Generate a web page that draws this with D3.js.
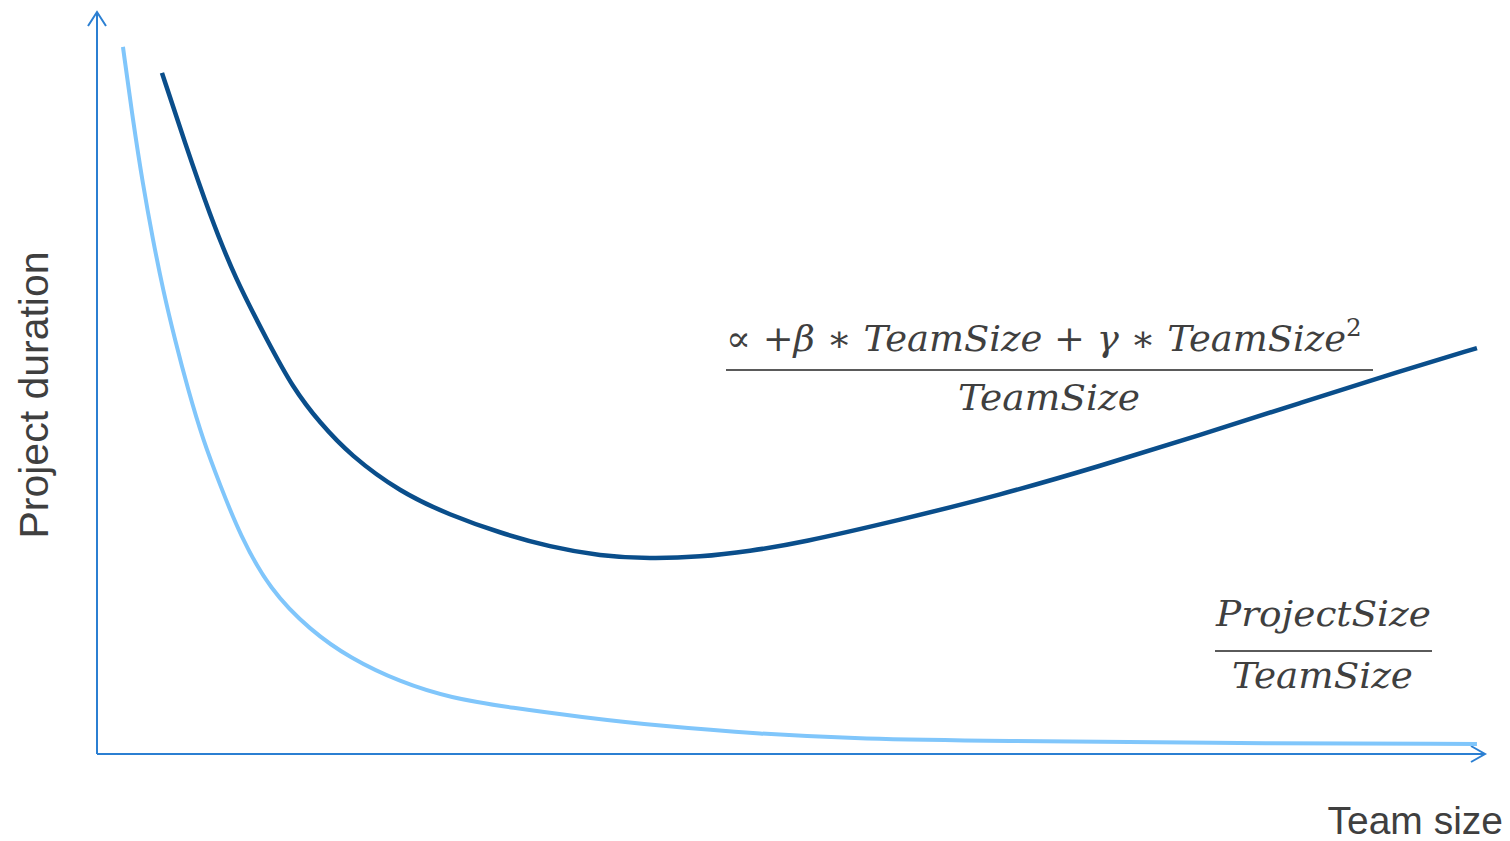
<!DOCTYPE html>
<html>
<head>
<meta charset="utf-8">
<script src="https://cdn.jsdelivr.net/npm/d3@7"></script>
<style>
  html, body { margin: 0; padding: 0; background: #fff; }
  svg { display: block; }
</style>
</head>
<body>
<svg id="chart" width="1510" height="841"></svg>
<script>
// team size (arbitrary units 0..100) and project duration (0..100)
const teamSizeSimple = [1.87, 2.59, 3.31, 4.03, 4.76, 5.62, 6.56, 7.64, 8.86, 10.3, 12.46, 15.35, 18.23, 21.83, 25.43, 29.97, 34.8, 40.56, 47.77, 54.97, 65.06, 79.47, 99.42];
const durationSimple = [95.3, 85.4, 76.7, 69.3, 62.5, 55.8, 49.1, 42.3, 36.3, 29.5, 22.1, 16.7, 12.9, 9.7, 7.55, 6.2, 5.0, 3.77, 2.7, 2.02, 1.75, 1.48, 1.35];

const teamSizeReal = [4.68, 6.34, 8.14, 9.94, 12.25, 14.12, 16.07, 18.23, 21.83, 25.43, 29.03, 32.64, 36.24, 39.84, 43.44, 47.05, 50.65, 57.85, 65.06, 72.26, 79.47, 86.67, 93.88, 99.42];
const durationReal = [91.8, 82.35, 72.6, 64.15, 55.8, 49.3, 44.6, 40.3, 35.3, 32.2, 29.8, 27.9, 26.7, 26.3, 26.55, 27.35, 28.45, 31.55, 34.9, 38.8, 43.0, 47.3, 51.6, 54.7];

const axisLabels = { x: 'Team size', y: 'Project duration' };

const svg = d3.select('#chart');

const x = d3.scaleLinear().domain([0, 100]).range([97, 1485]);
const y = d3.scaleLinear().domain([0, 100]).range([754, 12]);

const axisColor = '#2b7fd2';
const textColor = '#3f3f3f';

// axes with open arrow heads
const ax = svg.append('g').attr('fill', 'none').attr('stroke', axisColor).attr('stroke-width', 2);
ax.append('line').attr('x1', x(0)).attr('y1', y(0)).attr('x2', x(0)).attr('y2', y(100));
ax.append('line').attr('x1', x(0)).attr('y1', y(0)).attr('x2', x(100)).attr('y2', y(0));
ax.append('path').attr('d', `M${x(0) - 9},${y(100) + 14}L${x(0)},${y(100)}L${x(0) + 9},${y(100) + 14}`);
ax.append('path').attr('d', `M${x(100) - 14},${y(0) - 8}L${x(100)},${y(0)}L${x(100) - 14},${y(0) + 8}`);

// basis curve smooths out the reading noise in the points
const line = d3.line()
  .x(d => x(d[0]))
  .y(d => y(d[1]))
  .curve(d3.curveBasis);

svg.append('path')
  .datum(d3.zip(teamSizeSimple, durationSimple))
  .attr('fill', 'none')
  .attr('stroke', '#80c6fb')
  .attr('stroke-width', 4)
  .attr('d', line);

svg.append('path')
  .datum(d3.zip(teamSizeReal, durationReal))
  .attr('fill', 'none')
  .attr('stroke', '#0a4e8b')
  .attr('stroke-width', 4.5)
  .attr('d', line);

// axis titles
svg.append('text')
  .attr('transform', 'translate(48,395) rotate(-90)')
  .attr('text-anchor', 'middle')
  .attr('font-family', 'Liberation Sans, Arial, sans-serif')
  .attr('font-size', 41)
  .attr('fill', textColor)
  .text(axisLabels.y);

svg.append('text')
  .attr('x', 1503)
  .attr('y', 834)
  .attr('text-anchor', 'end')
  .attr('font-family', 'Liberation Sans, Arial, sans-serif')
  .attr('font-size', 39)
  .attr('fill', textColor)
  .text(axisLabels.x);

// formulas, squeezed to the widths seen in the picture
function fitText(g, parts, x0, baseline, width) {
  const t = g.append('text')
    .attr('font-family', 'DejaVu Serif, serif')
    .attr('font-size', 36)
    .attr('fill', textColor);
  parts.forEach(p => {
    const s = t.append('tspan').text(p.s)
      .attr('font-style', p.up ? 'normal' : 'italic');
    if (p.sup) s.attr('font-size', 24).attr('dy', -15);
  });
  const w = t.node().getBBox().width;
  t.attr('transform', `translate(${x0},${baseline}) scale(${width / w},1)`);
}

const f = svg.append('g');
fitText(f, [
  { s: '\u221D +', up: true }, { s: '\u03B2' }, { s: ' \u2217 ', up: true }, { s: 'TeamSize' },
  { s: ' + ', up: true }, { s: '\u03B3' }, { s: ' \u2217 ', up: true }, { s: 'TeamSize' },
  { s: '2', up: true, sup: true }
], 726, 351, 636);
f.append('line').attr('x1', 726).attr('x2', 1373).attr('y1', 370).attr('y2', 370)
  .attr('stroke', '#5a5a5a').attr('stroke-width', 2);
fitText(f, [{ s: 'TeamSize' }], 958, 410, 182);

fitText(f, [{ s: 'ProjectSize' }], 1216, 626, 216);
f.append('line').attr('x1', 1215).attr('x2', 1432).attr('y1', 651).attr('y2', 651)
  .attr('stroke', '#5a5a5a').attr('stroke-width', 2);
fitText(f, [{ s: 'TeamSize' }], 1232, 688, 181);
</script>
</body>
</html>
